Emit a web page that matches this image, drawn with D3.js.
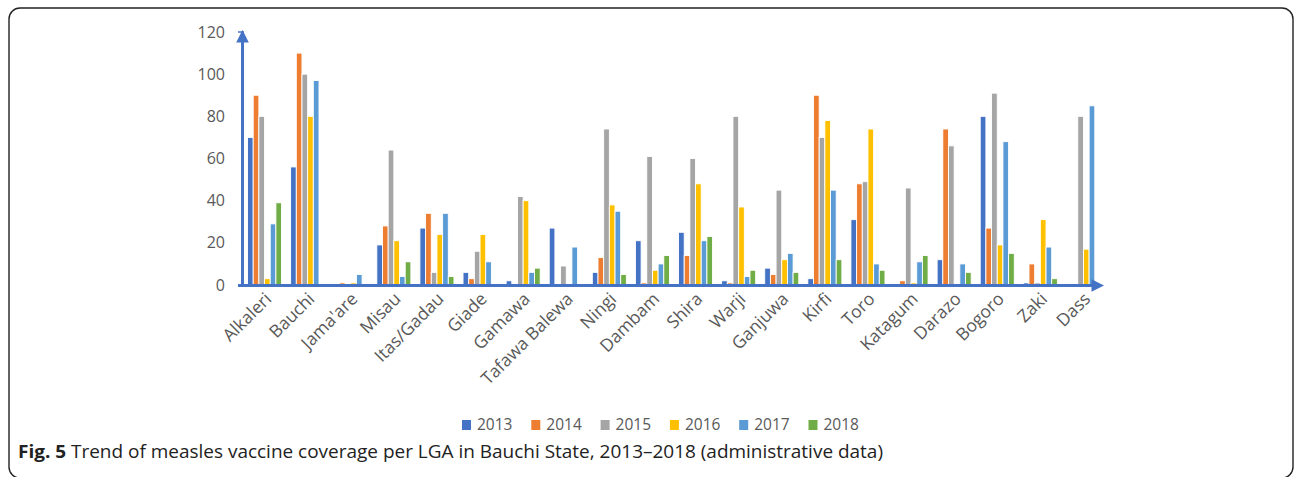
<!DOCTYPE html>
<html>
<head>
<meta charset="utf-8">
<script src="https://cdn.jsdelivr.net/npm/d3@7/dist/d3.min.js"></script>
<style>
  html, body { margin: 0; padding: 0; background: #fff; }
  svg { display: block; }
</style>
</head>
<body>
<svg id="chart" width="1295" height="477"></svg>
<script>
const categories = ["Alkaleri","Bauchi","Jama'are","Misau","Itas/Gadau","Giade","Gamawa","Tafawa Balewa","Ningi","Dambam","Shira","Warji","Ganjuwa","Kirfi","Toro","Katagum","Darazo","Bogoro","Zaki","Dass"];
const years = ["2013","2014","2015","2016","2017","2018"];
const v2013 = [70, 56, 0, 19, 27, 6, 2, 27, 6, 21, 25, 2, 8, 3, 31, 0, 12, 80, 1, 0];
const v2014 = [90, 110, 1, 28, 34, 3, 0, 0, 13, 1, 14, 1, 5, 90, 48, 2, 74, 27, 10, 0];
const v2015 = [80, 100, 0, 64, 6, 16, 42, 9, 74, 61, 60, 80, 45, 70, 49, 46, 66, 91, 1, 80];
const v2016 = [3, 80, 1, 21, 24, 24, 40, 0, 38, 7, 48, 37, 12, 78, 74, 1, 0, 19, 31, 17];
const v2017 = [29, 97, 5, 4, 34, 11, 6, 18, 35, 10, 21, 4, 15, 45, 10, 11, 10, 68, 18, 85];
const v2018 = [39, 0, 0, 11, 4, 0, 8, 0, 5, 14, 23, 7, 6, 12, 7, 14, 6, 15, 3, 0];
const yTicks = [0, 20, 40, 60, 80, 100, 120];
const colors = ["#4472C4", "#ED7D31", "#A5A5A5", "#FFC000", "#5B9BD5", "#70AD47"];
const captionBold = "Fig. 5";
const captionText = " Trend of measles vaccine coverage per LGA in Bauchi State, 2013\u20132018 (administrative data)";

const series = [v2013, v2014, v2015, v2016, v2017, v2018];
const svg = d3.select("#chart");
const axisColor = "#4472C4";
const textColor = "#595959";
const font = "'Open Sans', 'Noto Sans', sans-serif";

// frame
svg.append("rect")
  .attr("x", 9).attr("y", 8).attr("width", 1284).attr("height", 470)
  .attr("rx", 11).attr("ry", 11)
  .attr("fill", "none").attr("stroke", "#222").attr("stroke-width", 1.4);

const x0 = d3.scaleBand().domain(categories).range([243, 1105]).paddingInner(0.21).paddingOuter(0.105);
const x1 = d3.scaleBand().domain(years).range([0, x0.bandwidth()]);
const y = d3.scaleLinear().domain([0, 120]).range([285, 32]);

// y tick labels
svg.append("g").selectAll("text").data(yTicks).join("text")
  .attr("x", 225).attr("y", d => y(d)).attr("dy", "0.35em")
  .attr("text-anchor", "end")
  .attr("font-family", font).attr("font-size", 16).attr("fill", textColor)
  .text(d => d);

// bars
const groups = svg.append("g").selectAll("g").data(categories).join("g")
  .attr("transform", d => `translate(${x0(d)},0)`);
groups.selectAll("rect")
  .data((c, i) => years.map((yr, j) => ({ yr, v: series[j][i], j })))
  .join("rect")
  .attr("x", d => x1(d.yr))
  .attr("width", x1.bandwidth())
  .attr("y", d => y(d.v))
  .attr("height", d => y(0) - y(d.v))
  .attr("fill", d => colors[d.j])
  .attr("stroke", "#fff").attr("stroke-width", 0.9)
  .attr("display", d => d.v > 0 ? null : "none");

// axes with arrows
const defs = svg.append("defs");
defs.append("marker").attr("id", "arrow")
  .attr("viewBox", "0 0 10 10").attr("refX", 2).attr("refY", 5)
  .attr("markerWidth", 4.2).attr("markerHeight", 4.2).attr("orient", "auto")
  .append("path").attr("d", "M0,0 L10,5 L0,10 Z").attr("fill", axisColor);

svg.append("line")
  .attr("x1", 242.5).attr("x2", 242.5).attr("y1", y(0) + 1).attr("y2", 40)
  .attr("stroke", axisColor).attr("stroke-width", 3).attr("marker-end", "url(#arrow)");
svg.append("line")
  .attr("x1", 238).attr("x2", 1094).attr("y1", y(0) + 0.5).attr("y2", y(0) + 0.5)
  .attr("stroke", axisColor).attr("stroke-width", 3).attr("marker-end", "url(#arrow)");
svg.append("line")
  .attr("x1", 238).attr("x2", 244).attr("y1", y(120)).attr("y2", y(120))
  .attr("stroke", axisColor).attr("stroke-width", 1.5);

// x labels
svg.append("g").selectAll("text").data(categories).join("text")
  .attr("transform", d => `translate(${x0(d) + x0.bandwidth() / 2 + 8},${y(0) + 15}) rotate(-45)`)
  .attr("text-anchor", "end")
  .attr("font-family", font).attr("font-size", 17.5).attr("fill", textColor)
  .text(d => d);

// legend
const legend = svg.append("g").selectAll("g").data(years).join("g")
  .attr("transform", (d, i) => `translate(${462 + i * 69.3},425)`);
legend.append("rect").attr("x", 0).attr("y", -5).attr("width", 9).attr("height", 10)
  .attr("fill", (d, i) => colors[i]);
legend.append("text").attr("x", 15).attr("y", 0).attr("dy", "0.35em")
  .attr("font-family", font).attr("font-size", 15.5).attr("fill", textColor)
  .text(d => d);

// caption
const cap = svg.append("text").attr("x", 18).attr("y", 458)
  .attr("font-family", font).attr("font-size", 17.5).attr("fill", "#222")
  .attr("textLength", 865).attr("lengthAdjust", "spacingAndGlyphs");
cap.append("tspan").attr("font-weight", "bold").text(captionBold);
cap.append("tspan").text(captionText);
</script>
</body>
</html>
